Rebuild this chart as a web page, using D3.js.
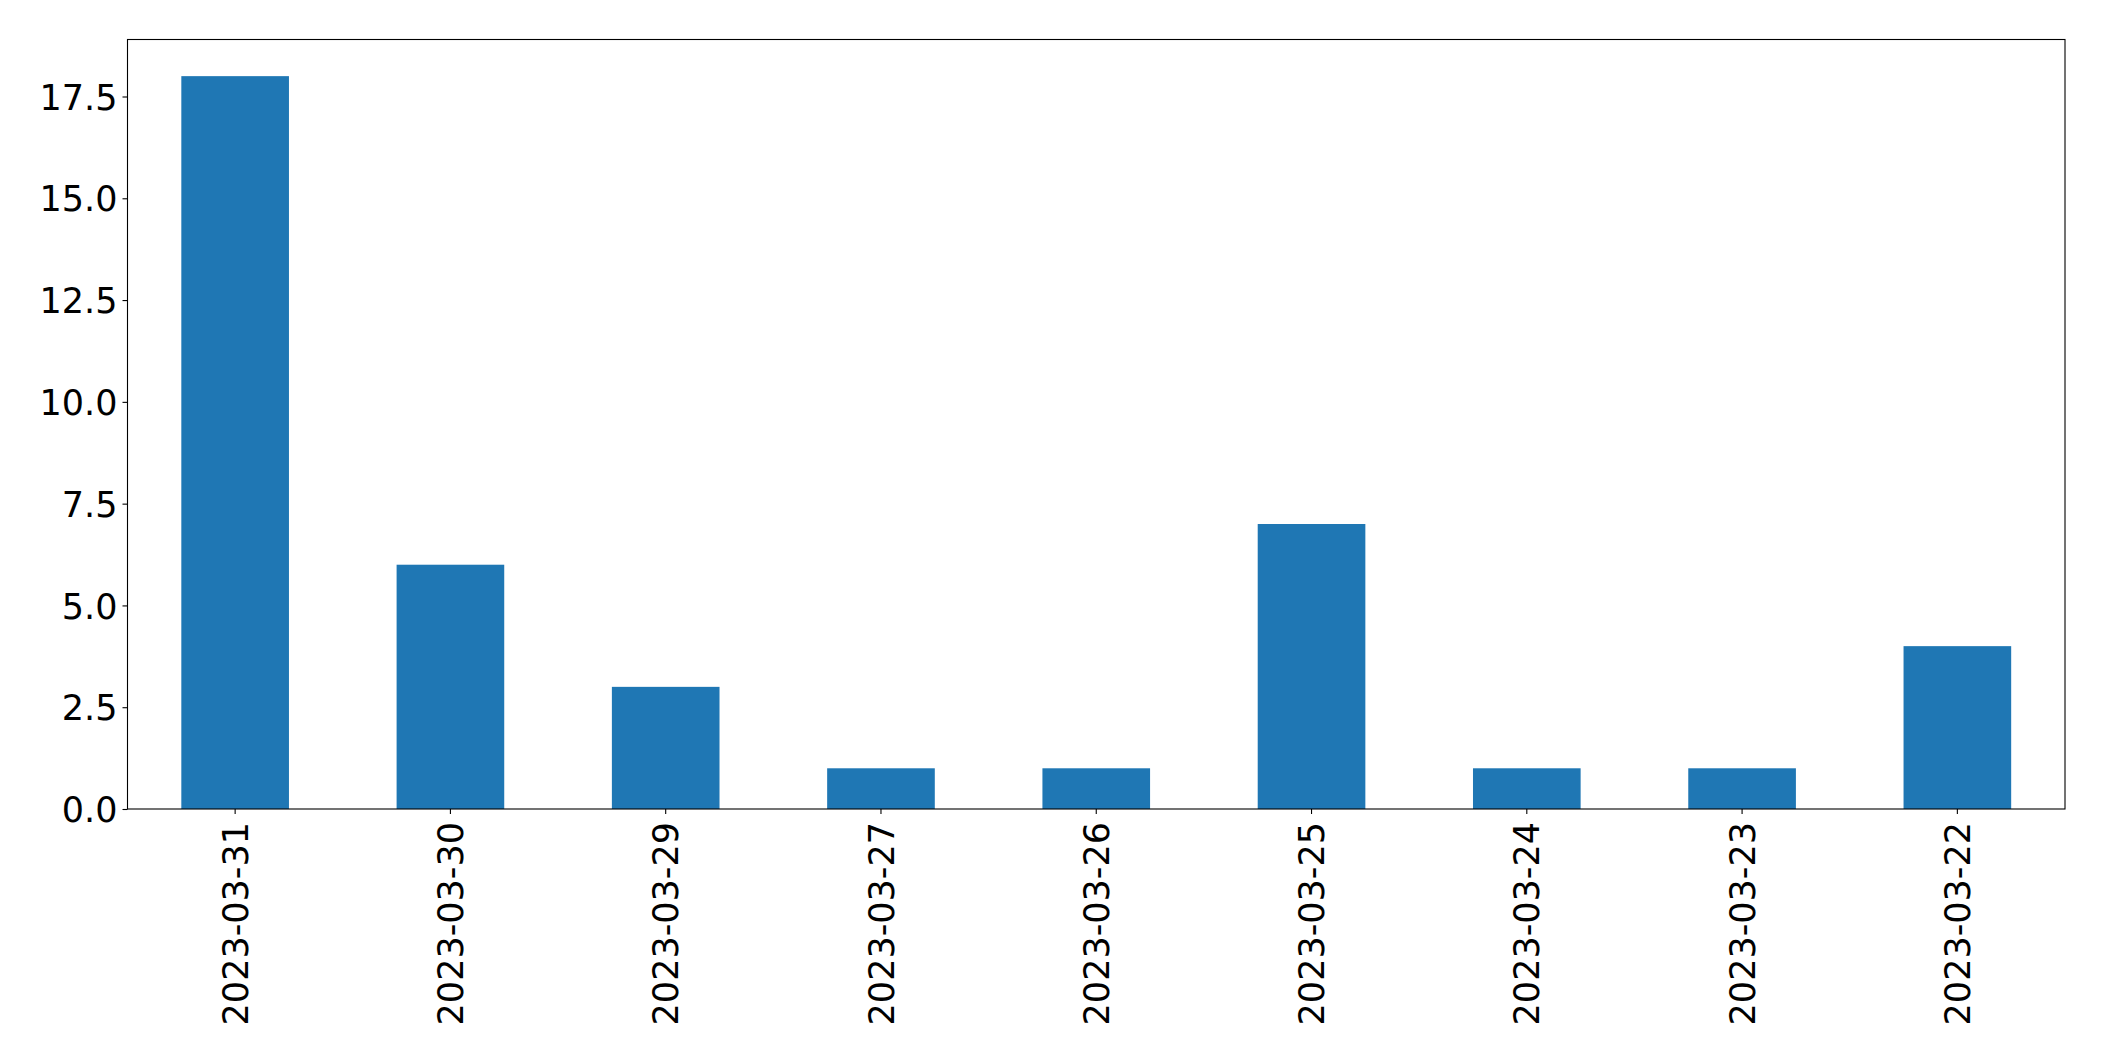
<!DOCTYPE html>
<html>
<head>
<meta charset="utf-8">
<script src="https://cdn.jsdelivr.net/npm/d3@7"></script>
<style>
  html, body { margin: 0; padding: 0; background: #fff; }
  svg { display: block; }
  text { font-family: "DejaVu Sans", sans-serif; fill: #000; }
</style>
</head>
<body>
<svg id="chart" width="2104" height="1061"></svg>
<script>
const categories = ["2023-03-31", "2023-03-30", "2023-03-29", "2023-03-27", "2023-03-26", "2023-03-25", "2023-03-24", "2023-03-23", "2023-03-22"];
const values = [18, 6, 3, 1, 1, 7, 1, 1, 4];
const yTicks = [0, 2.5, 5, 7.5, 10, 12.5, 15, 17.5];

const W = 2104, H = 1061;
const m = { left: 127.5, right: 2065, top: 39.5, bottom: 809 };
const svg = d3.select("#chart");

const x = d3.scaleBand().domain(categories).range([m.left, m.right]).paddingInner(0.5).paddingOuter(0.25);
const y = d3.scaleLinear().domain([0, d3.max(values) * 1.05]).range([m.bottom, m.top]);

svg.append("g").selectAll("rect").data(values).join("rect")
  .attr("x", (d, i) => x(categories[i]))
  .attr("width", x.bandwidth())
  .attr("y", d => y(d))
  .attr("height", d => y(0) - y(d))
  .attr("fill", "#1f77b4");

const fs = 35;
const gy = svg.append("g").attr("transform", `translate(${m.left},0)`)
  .call(d3.axisLeft(y).tickValues(yTicks).tickFormat(d3.format(".1f")).tickSize(5).tickPadding(5));
gy.select(".domain").remove();
gy.selectAll(".tick line").attr("stroke", "#000").attr("stroke-width", 1.1);
gy.selectAll(".tick text").attr("font-size", fs).attr("font-family", "DejaVu Sans").attr("dy", "0.36em");

const gx = svg.append("g").attr("transform", `translate(0,${m.bottom})`)
  .call(d3.axisBottom(x).tickSize(5).tickPadding(5));
gx.select(".domain").remove();
gx.selectAll(".tick line").attr("stroke", "#000").attr("stroke-width", 1.1);
gx.selectAll(".tick text")
  .attr("font-size", fs).attr("font-family", "DejaVu Sans")
  .attr("transform", "rotate(-90)")
  .attr("text-anchor", "end")
  .attr("x", -13).attr("y", 0).attr("dy", "0.36em");

svg.append("rect")
  .attr("x", m.left).attr("y", m.top)
  .attr("width", m.right - m.left).attr("height", m.bottom - m.top)
  .attr("fill", "none").attr("stroke", "#000").attr("stroke-width", 1.1);
</script>
</body>
</html>
